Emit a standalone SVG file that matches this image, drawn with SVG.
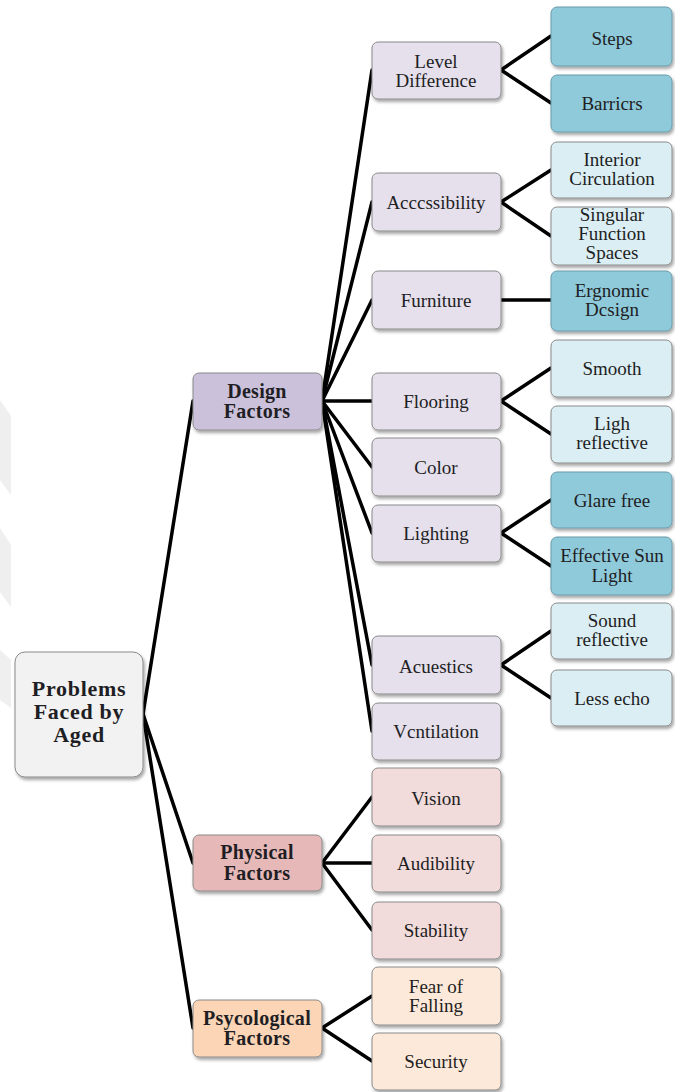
<svg xmlns="http://www.w3.org/2000/svg" width="675" height="1092" viewBox="0 0 675 1092" font-family="'Liberation Serif', serif">
  <defs>
    <filter id="shadow" x="-10%" y="-10%" width="125%" height="130%">
      <feDropShadow dx="1.5" dy="2.5" stdDeviation="1.5" flood-color="#000" flood-opacity="0.35"/>
    </filter>
    <style>
      .box { stroke: #8a8a8a; stroke-width: 1; filter: url(#shadow); }
      .root { fill: #f2f2f2; }
      .design { fill: #ccc1da; }
      .design-sub { fill: #e5e0ec; }
      .teal { fill: #8fcadb; stroke: #6a9aa8; }
      .pale { fill: #dbeef3; }
      .physical { fill: #e6b9b8; }
      .physical-sub { fill: #f2dcdb; }
      .psych { fill: #fbd5b5; }
      .psych-sub { fill: #fde9d9; }
      text { font-family: 'Liberation Serif', serif; font-size: 19px; fill: #1e1e24; text-anchor: middle; }
      .bold { font-weight: bold; font-size: 20px; letter-spacing: 0.3px; }
      .big { font-weight: bold; font-size: 22px; letter-spacing: 0.7px; }
      .links line { stroke: #000; stroke-width: 3.5; stroke-linecap: round; }
      .mark { fill: #efefef; }
    </style>
  </defs>

  <rect width="675" height="1092" fill="#ffffff"/>

  <!-- faint background chevrons along the left edge -->
  <g id="backdrop">
    <polygon class="mark" points="0,400 11,416 11,495 0,480"/>
    <polygon class="mark" points="0,528 11,545 11,607 0,592"/>
    <polygon class="mark" points="0,650 11,660 11,708 0,700"/>
  </g>

  <!-- connectors -->
  <g class="links" id="connectors">
    <!-- root to factor groups -->
    <line x1="143" y1="714" x2="193" y2="401"/>
    <line x1="143" y1="714" x2="193" y2="863"/>
    <line x1="143" y1="714" x2="193" y2="1028"/>
    <!-- design factors -->
    <line x1="322" y1="401" x2="372" y2="70"/>
    <line x1="322" y1="401" x2="372" y2="202"/>
    <line x1="322" y1="401" x2="372" y2="300"/>
    <line x1="322" y1="401" x2="372" y2="401"/>
    <line x1="322" y1="401" x2="372" y2="467"/>
    <line x1="322" y1="401" x2="372" y2="533"/>
    <line x1="322" y1="401" x2="372" y2="665"/>
    <line x1="322" y1="401" x2="372" y2="731"/>
    <!-- physical factors -->
    <line x1="322" y1="863" x2="372" y2="797"/>
    <line x1="322" y1="863" x2="372" y2="863"/>
    <line x1="322" y1="863" x2="372" y2="930"/>
    <!-- psychological factors -->
    <line x1="322" y1="1028" x2="372" y2="996"/>
    <line x1="322" y1="1028" x2="372" y2="1061"/>
    <!-- design details -->
    <line x1="501" y1="70" x2="551" y2="36"/>
    <line x1="501" y1="70" x2="551" y2="103"/>
    <line x1="501" y1="202" x2="551" y2="170"/>
    <line x1="501" y1="202" x2="551" y2="236"/>
    <line x1="501" y1="300" x2="551" y2="300"/>
    <line x1="501" y1="401" x2="551" y2="368"/>
    <line x1="501" y1="401" x2="551" y2="434"/>
    <line x1="501" y1="533" x2="551" y2="500"/>
    <line x1="501" y1="533" x2="551" y2="566"/>
    <line x1="501" y1="665" x2="551" y2="631"/>
    <line x1="501" y1="665" x2="551" y2="698"/>
  </g>

  <!-- root -->
  <g id="node-root">
    <rect class="box root" x="15" y="652" width="128" height="125" rx="10"/>
    <text class="big" x="79" y="696">Problems</text>
    <text class="big" x="79" y="719">Faced by</text>
    <text class="big" x="79" y="742">Aged</text>
  </g>

  <!-- factor groups -->
  <g id="node-design">
    <rect class="box design" x="193" y="373" width="129" height="57" rx="6"/>
    <text class="bold" x="257" y="398">Design</text>
    <text class="bold" x="257" y="418">Factors</text>
  </g>
  <g id="node-physical">
    <rect class="box physical" x="193" y="835" width="129" height="56" rx="6"/>
    <text class="bold" x="257" y="859">Physical</text>
    <text class="bold" x="257" y="880">Factors</text>
  </g>
  <g id="node-psych">
    <rect class="box psych" x="193" y="1000" width="129" height="57" rx="6"/>
    <text class="bold" x="257" y="1025">Psycological</text>
    <text class="bold" x="257" y="1045">Factors</text>
  </g>

  <!-- design factor topics -->
  <g id="node-level">
    <rect class="box design-sub" x="372" y="42" width="129" height="57" rx="6"/>
    <text x="436" y="68">Level</text>
    <text x="436" y="87">Difference</text>
  </g>
  <g id="node-access">
    <rect class="box design-sub" x="372" y="173" width="129" height="58" rx="6"/>
    <text x="436" y="209">Acccssibility</text>
  </g>
  <g id="node-furniture">
    <rect class="box design-sub" x="372" y="271" width="129" height="58" rx="6"/>
    <text x="436" y="307">Furniture</text>
  </g>
  <g id="node-flooring">
    <rect class="box design-sub" x="372" y="373" width="129" height="57" rx="6"/>
    <text x="436" y="408">Flooring</text>
  </g>
  <g id="node-color">
    <rect class="box design-sub" x="372" y="438" width="129" height="58" rx="6"/>
    <text x="436" y="474">Color</text>
  </g>
  <g id="node-lighting">
    <rect class="box design-sub" x="372" y="505" width="129" height="57" rx="6"/>
    <text x="436" y="540">Lighting</text>
  </g>
  <g id="node-acoustics">
    <rect class="box design-sub" x="372" y="636" width="129" height="58" rx="6"/>
    <text x="436" y="673">Acuestics</text>
  </g>
  <g id="node-ventilation">
    <rect class="box design-sub" x="372" y="703" width="129" height="57" rx="6"/>
    <text x="436" y="738">Vcntilation</text>
  </g>

  <!-- physical factor topics -->
  <g id="node-vision">
    <rect class="box physical-sub" x="372" y="768" width="129" height="58" rx="6"/>
    <text x="436" y="805">Vision</text>
  </g>
  <g id="node-audibility">
    <rect class="box physical-sub" x="372" y="835" width="129" height="57" rx="6"/>
    <text x="436" y="870">Audibility</text>
  </g>
  <g id="node-stability">
    <rect class="box physical-sub" x="372" y="902" width="129" height="57" rx="6"/>
    <text x="436" y="937">Stability</text>
  </g>

  <!-- psychological factor topics -->
  <g id="node-fear">
    <rect class="box psych-sub" x="372" y="967" width="129" height="58" rx="6"/>
    <text x="436" y="993">Fear of</text>
    <text x="436" y="1012">Falling</text>
  </g>
  <g id="node-security">
    <rect class="box psych-sub" x="372" y="1033" width="129" height="57" rx="6"/>
    <text x="436" y="1068">Security</text>
  </g>

  <!-- design details -->
  <g id="node-steps">
    <rect class="box teal" x="551" y="7" width="121" height="59" rx="6"/>
    <text x="612" y="45">Steps</text>
  </g>
  <g id="node-barriers">
    <rect class="box teal" x="551" y="75" width="121" height="57" rx="6"/>
    <text x="612" y="110">Barricrs</text>
  </g>
  <g id="node-interior">
    <rect class="box pale" x="551" y="142" width="121" height="56" rx="6"/>
    <text x="612" y="166">Interior</text>
    <text x="612" y="185">Circulation</text>
  </g>
  <g id="node-singular">
    <rect class="box pale" x="551" y="207" width="121" height="58" rx="6"/>
    <text x="612" y="221">Singular</text>
    <text x="612" y="240">Function</text>
    <text x="612" y="259">Spaces</text>
  </g>
  <g id="node-ergonomic">
    <rect class="box teal" x="551" y="271" width="121" height="60" rx="6"/>
    <text x="612" y="297">Ergnomic</text>
    <text x="612" y="316">Dcsign</text>
  </g>
  <g id="node-smooth">
    <rect class="box pale" x="551" y="340" width="121" height="57" rx="6"/>
    <text x="612" y="375">Smooth</text>
  </g>
  <g id="node-reflective">
    <rect class="box pale" x="551" y="406" width="121" height="57" rx="6"/>
    <text x="612" y="430">Ligh</text>
    <text x="612" y="449">reflective</text>
  </g>
  <g id="node-glare">
    <rect class="box teal" x="551" y="472" width="121" height="56" rx="6"/>
    <text x="612" y="507">Glare free</text>
  </g>
  <g id="node-sunlight">
    <rect class="box teal" x="551" y="537" width="121" height="58" rx="6"/>
    <text x="612" y="562">Effective Sun</text>
    <text x="612" y="582">Light</text>
  </g>
  <g id="node-sound">
    <rect class="box pale" x="551" y="603" width="121" height="56" rx="6"/>
    <text x="612" y="627">Sound</text>
    <text x="612" y="646">reflective</text>
  </g>
  <g id="node-echo">
    <rect class="box pale" x="551" y="670" width="121" height="56" rx="6"/>
    <text x="612" y="705">Less echo</text>
  </g>
</svg>
